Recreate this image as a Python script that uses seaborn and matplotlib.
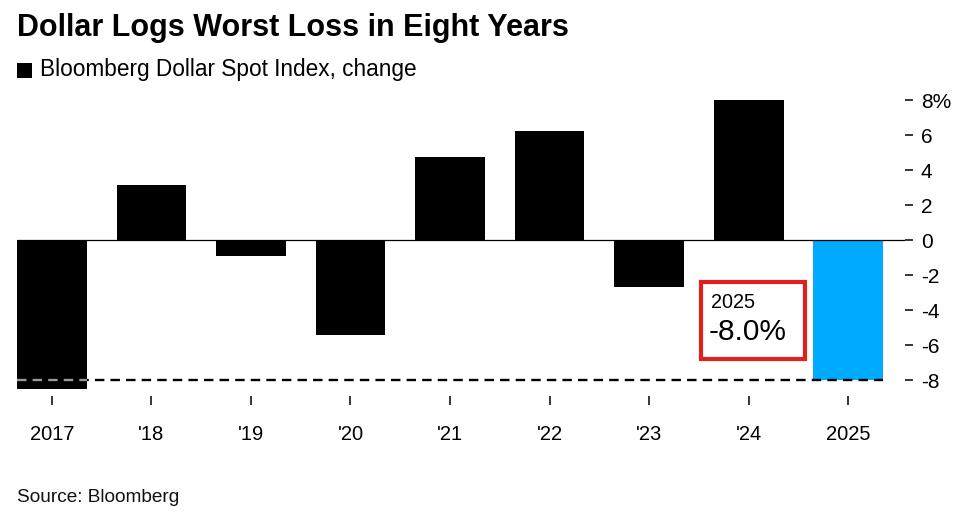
import matplotlib
matplotlib.use("Agg")
import matplotlib.pyplot as plt
import matplotlib.patches as mpatches
import seaborn as sns
import pandas as pd

# ---- data ----
years = ["2017", "'18", "'19", "'20", "'21", "'22", "'23", "'24", "2025"]
changes = [-8.5, 3.15, -0.9, -5.4, 4.75, 6.25, -2.7, 8.0, -8.0]
bar_colors = ["#000000"] * 8 + ["#00AAFF"]
ytick_vals = [-8, -6, -4, -2, 0, 2, 4, 6, 8]
ytick_labels = ["-8", "-6", "-4", "-2", "0", "2", "4", "6", "8%"]

sns.set_theme(style="white")
plt.rcParams["font.family"] = ["Liberation Sans", "DejaVu Sans"]
plt.rcParams["text.color"] = "#000000"

df = pd.DataFrame({"year": years, "change": changes})

W, H = 975, 530
fig = plt.figure(figsize=(W / 100, H / 100), dpi=100)
ax = fig.add_axes([0.0174, 0.2528, 0.9108, 0.578])

sns.barplot(data=df, x="year", y="change", hue="year", order=years,
            palette=dict(zip(years, bar_colors)), width=0.7, saturation=1,
            legend=False, ax=ax, edgecolor="none")

ax.set_xlim(-0.35, 8.57)
ax.set_ylim(-8.9, 8.6)
for s in ax.spines.values():
    s.set_visible(False)

ax.axhline(0, color="#000000", lw=0.9, zorder=1)

# dashed reference line at latest value
first = ax.patches[0]
last = ax.patches[len(years) - 1]
x0 = first.get_x()
x1 = last.get_x() + last.get_width()
ax.plot([x0, x1], [changes[-1]] * 2, color="#000000", lw=1.7,
        ls=(0, (4, 2.6)), zorder=3)
ax.plot([x0, first.get_x() + first.get_width()], [changes[-1]] * 2,
        color="#9a9a9a", lw=1.7, ls=(0, (4, 2.6)), zorder=4)

ax.yaxis.tick_right()
ax.set_yticks(ytick_vals)
ax.set_yticklabels(ytick_labels)
ax.tick_params(axis="y", which="both", right=True, left=False, length=6,
               width=1.1, pad=5.5, labelsize=15, colors="#000000")
for lab in ax.get_yticklabels():
    lab.set_horizontalalignment("left")
ax.tick_params(axis="x", bottom=True, length=6.5, width=1.1, pad=14.5,
               labelsize=14.5, colors="#000000")
ax.set_xlabel("")
ax.set_ylabel("")

# annotation box
rect = mpatches.Rectangle((6.52, -6.8), 1.045, 4.4, transform=ax.transData,
                          fill=False, edgecolor="#E0201F", lw=3, zorder=5)
ax.add_patch(rect)
ax.text(6.62, -3.55, years[-1], fontsize=14.3, color="#000000",
        ha="left", va="center", zorder=6)
ax.text(6.6, -5.25, f"{changes[-1]:.1f}%", fontsize=21.5, color="#000000",
        ha="left", va="center", zorder=6)

# titles
fig.text(0.0174, 0.947, "Dollar Logs Worst Loss in Eight Years",
         fontsize=22, fontweight="bold", ha="left", va="center",
         color="#000000")
fig.patches.append(mpatches.Rectangle((17 / W, 1 - 77.5 / H), 15 / W, 15 / H,
                                      transform=fig.transFigure,
                                      facecolor="#000000", edgecolor="none"))
fig.text(0.041, 0.868, "Bloomberg Dollar Spot Index, change",
         fontsize=16.3, ha="left", va="center", color="#000000")
fig.text(0.0174, 0.062, "Source: Bloomberg", fontsize=13.7, ha="left",
         va="center", color="#111111")

fig.savefig("out.png", dpi=100)
